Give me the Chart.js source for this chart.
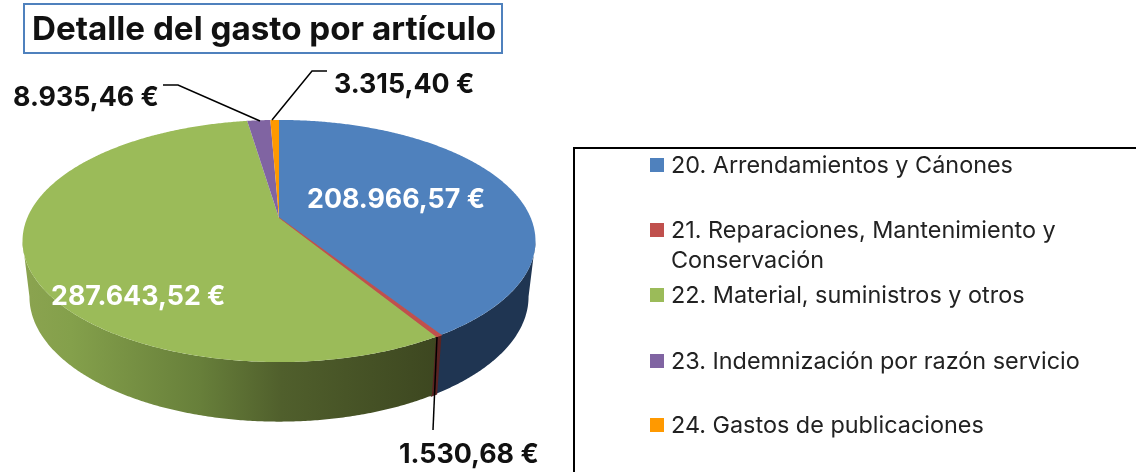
<!DOCTYPE html>
<html lang="es">
<head>
<meta charset="utf-8">
<title>Detalle del gasto por artículo</title>
<script src="https://cdn.jsdelivr.net/npm/chart.js@4"></script>
<style>
    html, body { margin: 0; padding: 0; background: #fff; overflow: hidden; }
    canvas { display: block; }
</style>
</head>
<body>
<canvas id="gastoChart" width="1136" height="472"></canvas>
<script>
const tituloTexto = 'Detalle del gasto por artículo';
const categorias = [
    ['20. Arrendamientos y Cánones'],
    ['21. Reparaciones, Mantenimiento y', 'Conservación'],
    ['22. Material, suministros y otros'],
    ['23. Indemnización por razón servicio'],
    ['24. Gastos de publicaciones']
];
const importes = [208966.57, 1530.68, 287643.52, 8935.46, 3315.40];
const colores = ['#4f81bd', '#c0504d', '#9bbb59', '#8064a2', '#ff9900'];

const FUENTE = 'Inter, sans-serif';

// Geometría de la tarta en perspectiva (y hacia el espectador)
const persp = { k: 0.19, x0: 279, top: { b: 251.8, a: 116.7, y0: 218 }, base: { b: 245, a: 120.4, y0: 273 } };

// Posición de cada etiqueta y sus líneas guía
const etiquetas = [
    { x: 307, y: 200, color: '#fff' },
    { x: 399, y: 455, color: '#111', guia: [[437, 337], [433, 430]] },
    { x: 51, y: 297, color: '#fff' },
    { x: 13, y: 98, color: '#111', guia: [[163, 85], [178, 85], [260, 121]] },
    { x: 334, y: 85, color: '#111', guia: [[327, 71], [312, 71], [272, 120]] }
];

function formatoEuro(valor) {
    const partes = valor.toFixed(2).split('.');
    return partes[0].replace(/\B(?=(\d{3})+$)/g, '.') + ',' + partes[1] + ' €';
}

function proyectar(angulo, r, nivel) {
    const x = r * Math.cos(angulo);
    const y = r * Math.sin(angulo);
    const w = 1 - persp.k * y;
    return [persp.x0 + nivel.b * x / w, nivel.y0 + nivel.a * y / w];
}

function trazarBorde(ctx, desde, hasta, nivel, inicio) {
    const pasos = Math.max(2, Math.ceil(Math.abs(hasta - desde) / 0.008));
    for (let i = 0; i <= pasos; i++) {
        const p = proyectar(desde + (hasta - desde) * i / pasos, 1, nivel);
        if (i === 0 && inicio) ctx.moveTo(p[0], p[1]);
        else ctx.lineTo(p[0], p[1]);
    }
}

function colorLateral(ctx, indice) {
    if (indice === 2) {
        const g = ctx.createLinearGradient(30, 0, 436, 0);
        g.addColorStop(0, '#8aa34f');
        g.addColorStop(0.1, '#84a04b');
        g.addColorStop(0.42, '#677f3a');
        g.addColorStop(0.62, '#505f2c');
        g.addColorStop(1, '#3d4720');
        return g;
    }
    return ['#1f3552', '#5a2322', '', '#4a3a5e', '#a05f10'][indice];
}

const tarta3d = {
    id: 'tarta3d',
    beforeDatasetsDraw(chart) {
        const ctx = chart.ctx;
        const arcos = chart.getDatasetMeta(0).data;
        const limite = Math.asin(persp.k);

        ctx.save();
        // Pared lateral, solo la parte frontal
        arcos.forEach((arco, i) => {
            const desde = Math.max(arco.startAngle, limite);
            const hasta = Math.min(arco.endAngle, Math.PI - limite);
            if (hasta <= desde) return;
            ctx.beginPath();
            trazarBorde(ctx, desde, hasta, persp.top, true);
            trazarBorde(ctx, hasta, desde, persp.base, false);
            ctx.closePath();
            ctx.fillStyle = colorLateral(ctx, i);
            ctx.fill();
            if (i === 1) {
                ctx.strokeStyle = ctx.fillStyle;
                ctx.lineWidth = 2;
                ctx.stroke();
            }
        });

        // Cara superior
        arcos.forEach((arco, i) => {
            ctx.beginPath();
            ctx.moveTo(persp.x0, persp.top.y0);
            trazarBorde(ctx, arco.startAngle, arco.endAngle, persp.top, false);
            ctx.closePath();
            ctx.fillStyle = colores[i];
            ctx.fill();
            if (i === 1) {
                ctx.strokeStyle = colores[i];
                ctx.lineWidth = 1.5;
                ctx.stroke();
            }
        });
        ctx.restore();
        return false;
    },
    afterDraw(chart) {
        const ctx = chart.ctx;
        ctx.save();

        // Líneas guía y etiquetas de importe
        ctx.strokeStyle = '#000';
        ctx.lineWidth = 1.5;
        etiquetas.forEach(et => {
            if (!et.guia) return;
            ctx.beginPath();
            et.guia.forEach((p, n) => n ? ctx.lineTo(p[0], p[1]) : ctx.moveTo(p[0], p[1]));
            ctx.stroke();
        });
        ctx.font = '700 26.8px ' + FUENTE;
        ctx.textAlign = 'left';
        ctx.textBaseline = 'middle';
        importes.forEach((v, i) => {
            ctx.fillStyle = etiquetas[i].color;
            ctx.fillText(formatoEuro(v), etiquetas[i].x, etiquetas[i].y);
        });

        // Recuadro del título
        ctx.strokeStyle = '#4f81bd';
        ctx.lineWidth = 2;
        ctx.strokeRect(24, 4, 478, 49);

        // Leyenda
        ctx.strokeStyle = '#000';
        ctx.lineWidth = 2;
        ctx.strokeRect(574, 148, 600, 400);
        ctx.font = '400 23.4px ' + FUENTE;
        const filas = [165, 230, 295, 361, 425];
        categorias.forEach((lineas, i) => {
            ctx.fillStyle = colores[i];
            ctx.fillRect(650, filas[i] - 7, 14, 14);
            ctx.fillStyle = '#222';
            lineas.forEach((texto, n) => ctx.fillText(texto, 671, filas[i] + 1 + n * 30));
        });
        ctx.restore();
    }
};

new Chart(document.getElementById('gastoChart'), {
    type: 'pie',
    data: {
        labels: categorias.map(c => c.join(' ')),
        datasets: [{ data: importes, backgroundColor: colores, borderWidth: 0 }]
    },
    options: {
        responsive: false,
        animation: false,
        layout: { padding: { left: 32 } },
        plugins: {
            legend: { display: false },
            tooltip: { enabled: false },
            title: {
                display: true,
                text: tituloTexto,
                align: 'start',
                color: '#111',
                font: { family: FUENTE, size: 33.2, weight: '700' },
                padding: { top: 10, bottom: 8 }
            }
        }
    },
    plugins: [tarta3d]
});
</script>
</body>
</html>
